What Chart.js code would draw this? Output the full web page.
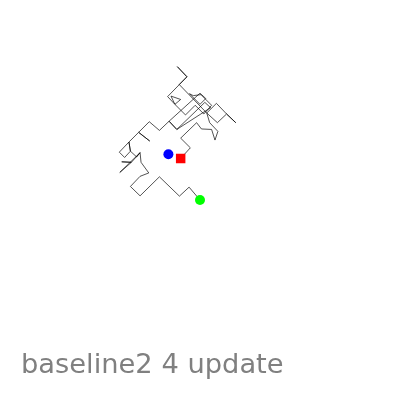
<!DOCTYPE html>
<html>
<head>
<meta charset="utf-8">
<script src="https://cdn.jsdelivr.net/npm/chart.js@4"></script>
<style>
html,body{margin:0;padding:0;background:#fff;}
#c{display:block;}
</style>
</head>
<body>
<canvas id="c" width="400" height="400"></canvas>
<script>
// Walk path (units: x right, y up; start at origin)
const pathX = [0,10,0,16.5,21.5,32,35.5,38.5,30,27,37,47.5,57,47.5,38,27,-1.5,6.5,-3.5,6.5,-13.5,-6,0,-10,-6,5,15,24,32,21,13,9,20,26,20,-12,-4,25,31,-4,-12,-22,-32.5,-43.5,-32,-43.5,-53.5,-63.5,-58,-52,-53.5,-52,-45.5,-42,-63,-51,-61,-51,-42,-41,-33,-42,-52,-42,-22,-1.3,8.7,20];
const pathY = [0,11,21,37,30.5,30,19,28,37,47,57,46,37,46,37,47,76.5,84.5,95,84.5,64,56,61,64.5,56,45,55,46,55,66,65,67,56,62,67.5,38.5,30,58,52.5,30,38.5,29,38,27,18,27,17,6.5,1,7.5,17,7.5,1.5,6,-14.5,-4,-3.5,-4,6,-4,-15,-18.5,-29,-38.7,-19,-39,-29.7,-43];
const startPoint = [0, 0];
const meanPoint = [-12.7, 4.3];
const endPoint = [20, -43];
const titleText = "baseline2 4 update";

const pathData = pathX.map((x, i) => ({x: x, y: pathY[i]}));

const titlePlugin = {
  id: 'bottomText',
  afterDraw(chart) {
    const ctx = chart.ctx;
    ctx.save();
    ctx.font = '27.3px "DejaVu Sans"';
    ctx.fillStyle = '#808080';
    ctx.textBaseline = 'alphabetic';
    ctx.textAlign = 'left';
    ctx.fillText(titleText, 21, 373);
    ctx.restore();
  }
};

new Chart(document.getElementById('c'), {
  type: 'scatter',
  data: {
    datasets: [
      {
        data: [{x: startPoint[0], y: startPoint[1]}],
        pointStyle: 'rect',
        pointRadius: 6.7,
        backgroundColor: '#ff0000',
        borderColor: '#ff0000',
        borderWidth: 0,
        order: 1
      },
      {
        data: [{x: meanPoint[0], y: meanPoint[1]}],
        pointStyle: 'circle',
        pointRadius: 5,
        backgroundColor: '#0000ff',
        borderColor: '#0000ff',
        borderWidth: 0,
        order: 1
      },
      {
        data: [{x: endPoint[0], y: endPoint[1]}],
        pointStyle: 'circle',
        pointRadius: 5,
        backgroundColor: '#00ff00',
        borderColor: '#00ff00',
        borderWidth: 0,
        order: 1
      },
      {
        data: pathData,
        showLine: true,
        borderColor: 'rgba(0,0,0,0.85)',
        borderWidth: 0.8,
        pointRadius: 0,
        tension: 0,
        fill: false,
        order: 2
      }
    ]
  },
  options: {
    responsive: false,
    animation: false,
    devicePixelRatio: 1,
    layout: {padding: 0},
    plugins: {legend: {display: false}, tooltip: {enabled: false}, title: {display: false}},
    scales: {
      x: {type: 'linear', display: false, min: -180, max: 220},
      y: {type: 'linear', display: false, min: -243, max: 157}
    }
  },
  plugins: [titlePlugin]
});
</script>
</body>
</html>
